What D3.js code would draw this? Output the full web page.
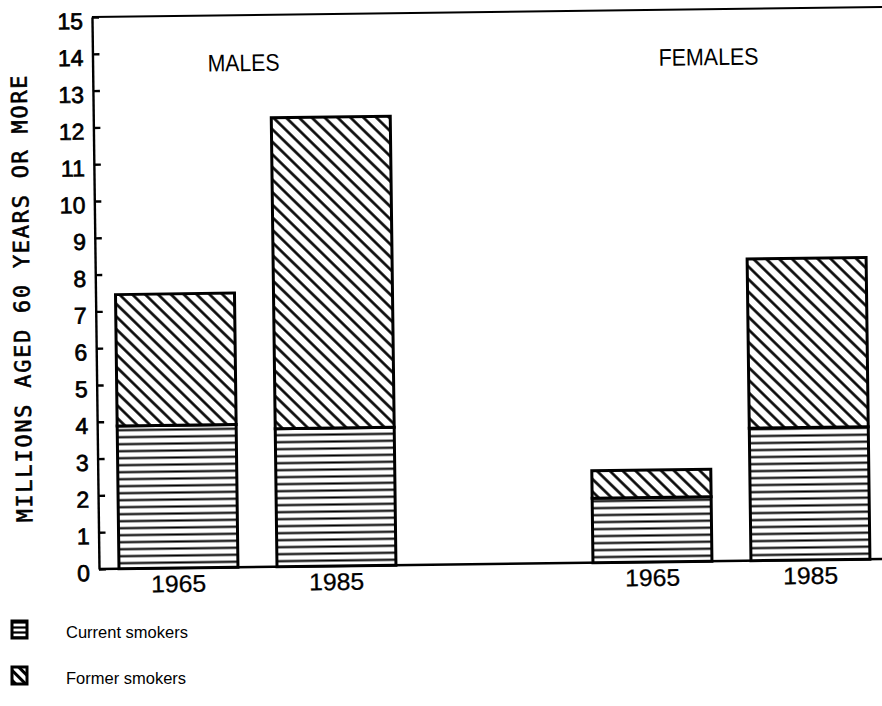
<!DOCTYPE html>
<html><head><meta charset="utf-8">
<script src="https://cdn.jsdelivr.net/npm/d3@7"></script>
<style>
body{margin:0;background:#fff;}
svg{display:block;}
</style></head>
<body>
<svg id="chart" width="882" height="706"></svg>
<script>
// ---- data ----
const groups = ["MALES", "FEMALES"];
const years = ["1965", "1985"];
const slots = ["M1965", "M1985", "gap", "F1965", "F1985"];
const barKeys = ["M1965", "M1985", "F1965", "F1985"];
const barYears = ["1965", "1985", "1965", "1985"];
const currentSmokers = [3.88, 3.75, 1.75, 3.6];
const formerSmokers = [3.57, 8.45, 0.75, 4.6];
const yTicks = [0,1,2,3,4,5,6,7,8,9,10,11,12,13,14,15];
const yTitle = "MILLIONS AGED 60 YEARS OR MORE";
const legendLabels = ["Current smokers", "Former smokers"];

const svg = d3.select("#chart");
const defs = svg.append("defs");

// horizontal hatch
const ph = defs.append("pattern").attr("id","hatchH").attr("patternUnits","userSpaceOnUse")
  .attr("width",10).attr("height",7);
ph.append("rect").attr("width",10).attr("height",7).attr("fill","#fff");
ph.append("line").attr("x1",0).attr("x2",10).attr("y1",3.5).attr("y2",3.5)
  .attr("stroke","#000").attr("stroke-width",2.1);
// diagonal hatch "\"
const pd = defs.append("pattern").attr("id","hatchD").attr("patternUnits","userSpaceOnUse")
  .attr("width",9).attr("height",9).attr("patternTransform","rotate(-45)");
pd.append("rect").attr("width",9).attr("height",9).attr("fill","#fff");
pd.append("line").attr("x1",4.5).attr("x2",4.5).attr("y1",0).attr("y2",9)
  .attr("stroke","#000").attr("stroke-width",2.6);
// legend hatch (coarser)
const ph2 = defs.append("pattern").attr("id","hatchH2").attr("patternUnits","userSpaceOnUse")
  .attr("width",10).attr("height",5);
ph2.append("rect").attr("width",10).attr("height",5).attr("fill","#fff");
ph2.append("line").attr("x1",0).attr("x2",10).attr("y1",2.5).attr("y2",2.5)
  .attr("stroke","#000").attr("stroke-width",2.2);
const pd2 = defs.append("pattern").attr("id","hatchD2").attr("patternUnits","userSpaceOnUse")
  .attr("width",7).attr("height",7).attr("patternTransform","rotate(-45)");
pd2.append("rect").attr("width",7).attr("height",7).attr("fill","#fff");
pd2.append("line").attr("x1",3.5).attr("x2",3.5).attr("y1",0).attr("y2",7)
  .attr("stroke","#000").attr("stroke-width",3);

const x0 = 99, yBase = 569, yTop = 17;
const g = svg.append("g").attr("transform", `rotate(-0.73, ${x0}, ${yBase})`);

const x = d3.scaleBand().domain(slots).range([119, 870]).paddingInner(0.247).paddingOuter(0);
const y = d3.scaleLinear().domain([0, 15]).range([yBase, yTop]);

// frame lines
g.append("line").attr("x1", x0).attr("x2", 900).attr("y1", yTop).attr("y2", yTop)
  .attr("stroke","#000").attr("stroke-width",2);
g.append("line").attr("x1", x0).attr("x2", 900).attr("y1", yBase).attr("y2", yBase)
  .attr("stroke","#000").attr("stroke-width",2.5);

// y axis
const yAxis = d3.axisLeft(y).tickValues(yTicks).tickSize(-7).tickSizeOuter(0).tickPadding(9);
const ya = g.append("g").attr("transform", `translate(${x0},0)`).call(yAxis);
ya.select(".domain").attr("stroke-width",2.4);
ya.selectAll(".tick line").attr("stroke-width",2.4);
ya.selectAll(".tick text").attr("font-family","Liberation Sans, Arial, sans-serif")
  .attr("font-size",23).attr("dy","0.5em").attr("fill","#000")
  .attr("stroke","#000").attr("stroke-width",0.7);

// bars
const bars = barKeys.map((k,i)=>({key:k, year:barYears[i], cur:currentSmokers[i], former:formerSmokers[i]}));
const bg = g.append("g");
bars.forEach(b=>{
  bg.append("rect").attr("x", x(b.key)).attr("width", x.bandwidth())
    .attr("y", y(b.cur)).attr("height", y(0)-y(b.cur))
    .attr("fill","url(#hatchH)").attr("stroke","#000").attr("stroke-width",3);
  bg.append("rect").attr("x", x(b.key)).attr("width", x.bandwidth())
    .attr("y", y(b.cur+b.former)).attr("height", y(b.cur)-y(b.cur+b.former))
    .attr("fill","url(#hatchD)").attr("stroke","#000").attr("stroke-width",3);
  g.append("text").attr("x", x(b.key)+x.bandwidth()/2).attr("y", 593)
    .attr("text-anchor","middle").attr("font-family","Liberation Sans, Arial, sans-serif")
    .attr("font-size",24).attr("textLength",55).attr("lengthAdjust","spacingAndGlyphs")
    .attr("stroke","#000").attr("stroke-width",0.3)
    .text(b.year);
});

// group labels
const groupCenters = [250, 715];
groups.forEach((gr,i)=>{
  g.append("text").attr("x", groupCenters[i]).attr("y", 73)
    .attr("text-anchor","middle").attr("font-family","Liberation Sans, Arial, sans-serif")
    .attr("font-size",24).attr("textLength", i===0?72:100).attr("lengthAdjust","spacingAndGlyphs")
    .text(gr);
});

// y title
g.append("text").attr("transform","translate(33,298) rotate(-90)")
  .attr("text-anchor","middle").attr("font-family","DejaVu Sans Mono, monospace")
  .attr("font-size",22).attr("textLength",447).attr("lengthAdjust","spacing")
  .attr("stroke","#000").attr("stroke-width",0.6)
  .text(yTitle);

// legend
const leg = svg.append("g");
const fills = ["url(#hatchH2)","url(#hatchD2)"];
legendLabels.forEach((lab,i)=>{
  const ly = 621 + i*46;
  leg.append("rect").attr("x",12).attr("y",ly).attr("width",15).attr("height",17)
    .attr("fill",fills[i]).attr("stroke","#000").attr("stroke-width",3);
  leg.append("text").attr("x",66).attr("y",ly+17)
    .attr("font-family","Liberation Sans, Arial, sans-serif").attr("font-size",16.5)
    .text(lab);
});
</script>
</body></html>
